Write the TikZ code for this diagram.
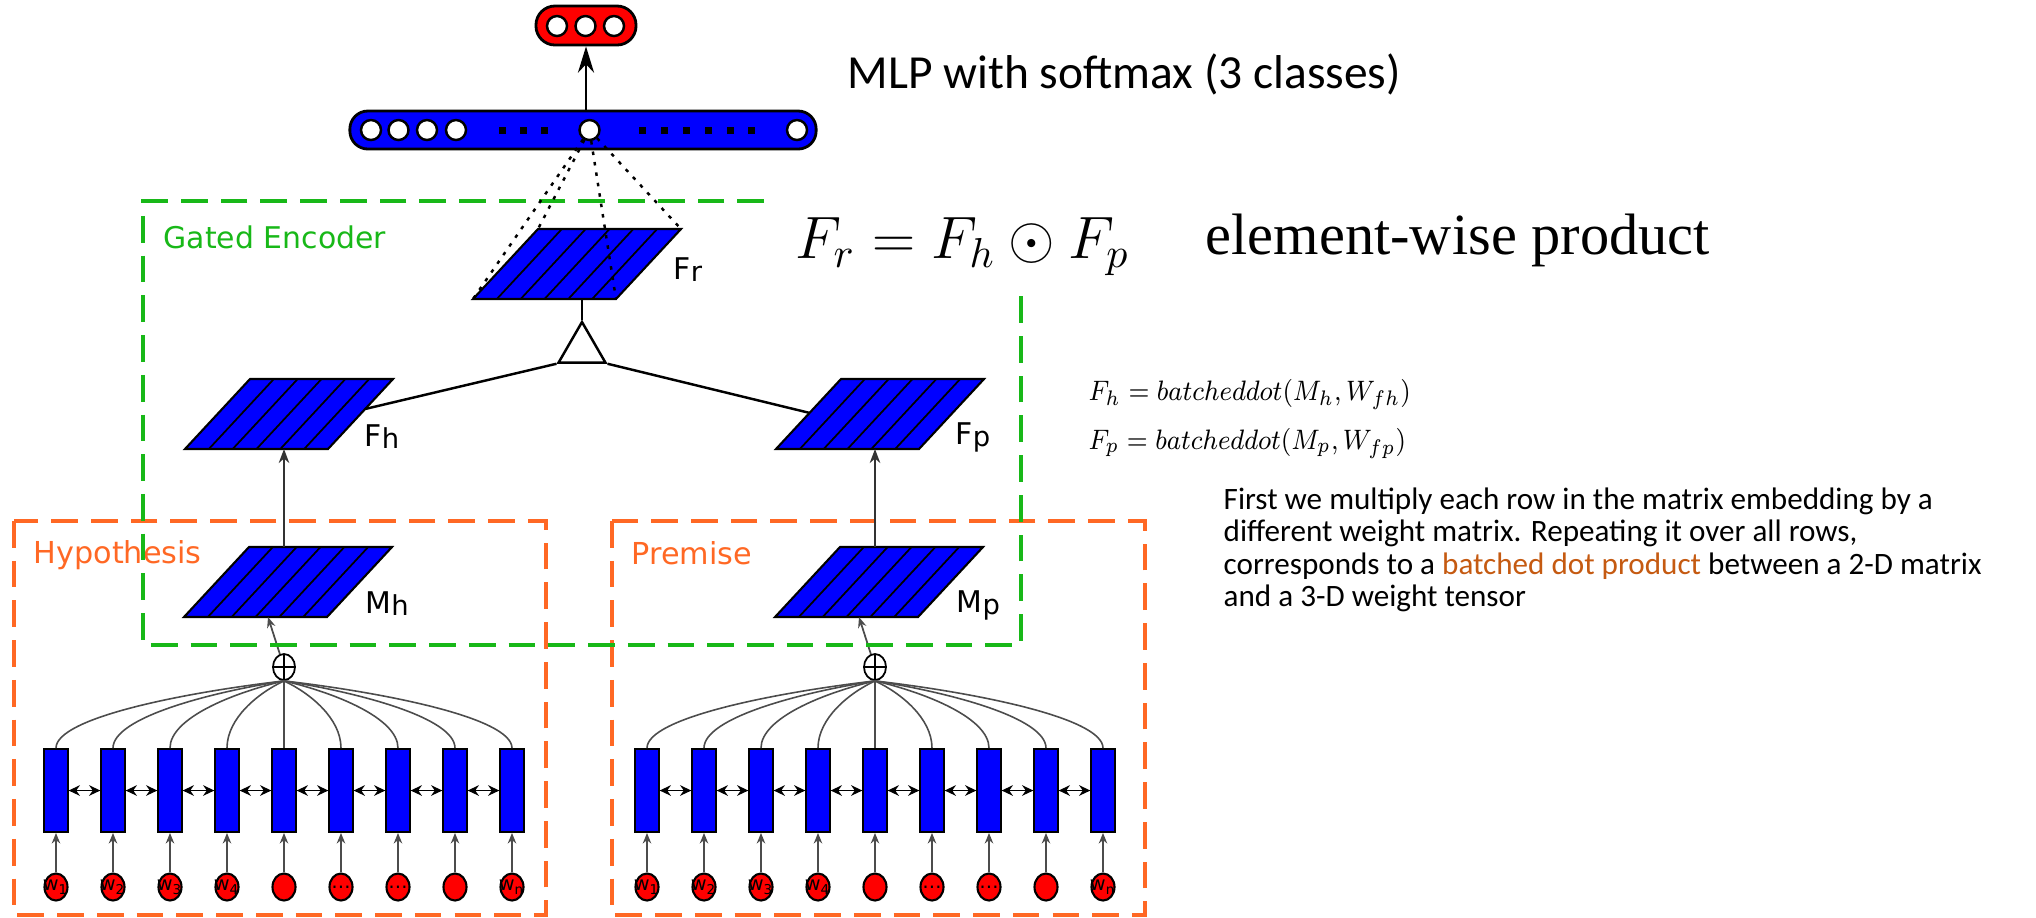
\RequirePackage{fix-cm}
\documentclass[tikz,border=0pt]{standalone}
\usepackage{graphicx}
\usepackage{fontspec}
\usetikzlibrary{arrows.meta,shapes.geometric,calc}

\newfontfamily\labelfont{DejaVu Sans}
\newfontfamily\slidefont{Carlito}
\newfontfamily\slideserif{Liberation Serif}

\definecolor{netblue}{RGB}{0,0,255}
\definecolor{netred}{RGB}{255,0,0}
\definecolor{encgreen}{RGB}{24,184,24}
\definecolor{boxorange}{RGB}{255,104,36}
\definecolor{dotorange}{RGB}{197,90,17}

\newcommand{\sheetname}[2]{#1\raisebox{-0.6pt}{\fontsize{7.8}{8}\selectfont #2}}

\begin{document}
\begin{tikzpicture}[
    x=0.01cm, y=-0.01cm,
    >=Stealth,
    sheetedge/.style={
        draw=black,
        fill=netblue,
        line width=0.6pt
    },
    stripe/.style={
        black,
        line width=0.5pt
    },
    sheet/.pic={
        \draw[sheetedge] (0,0) -- (143,0) -- (208,-70) -- (65,-70) -- cycle;
        \foreach \k in {1,...,5}
            \draw[stripe] ({\k*143/6},0) -- ({65+\k*143/6},-70);
        \coordinate (-bl) at (0,0);
        \coordinate (-br) at (143,0);
        \coordinate (-tr) at (208,-70);
        \coordinate (-tl) at (65,-70);
        \coordinate (-l)  at (34,-36);
        \coordinate (-r)  at (180,-40);
        \coordinate (-in) at (84,0);
    },
    word/.style={
        draw,
        ellipse,
        fill=netred,
        line width=0.6pt,
        minimum width=0.23cm,
        minimum height=0.27cm,
        inner sep=0pt,
        font=\labelfont\fontsize{5.5}{6}\selectfont
    },
    state/.style={
        draw,
        rectangle,
        fill=netblue,
        line width=0.5pt,
        minimum width=0.235cm,
        minimum height=0.83cm,
        inner sep=0pt
    },
    sumnode/.style={
        draw,
        ellipse,
        fill=white,
        line width=0.5pt,
        minimum width=0.22cm,
        minimum height=0.26cm,
        inner sep=0pt,
        path picture={
            \draw[line width=0.4pt]
                (path picture bounding box.north) -- (path picture bounding box.south)
                (path picture bounding box.west) -- (path picture bounding box.east);
        }
    },
    unit/.style={
        draw,
        circle,
        fill=white,
        line width=0.7pt,
        minimum size=0.2cm,
        inner sep=0pt
    },
    dotsq/.style={
        rectangle,
        fill=black,
        minimum size=0.07cm,
        inner sep=0pt
    },
    merge/.style={
        draw,
        regular polygon,
        regular polygon sides=3,
        minimum size=0.54cm,
        inner sep=0pt,
        line width=0.7pt
    },
    inarrow/.style={
        -{Stealth[length=3pt,width=2.4pt]},
        black!70,
        line width=0.5pt
    },
    uparrow/.style={
        -{Stealth[length=4pt,width=3pt]},
        black!80,
        line width=0.5pt
    },
    birnn/.style={
        {Stealth[length=3.2pt,width=3pt]}-{Stealth[length=3.2pt,width=3pt]},
        line width=0.5pt
    },
    fanline/.style={
        black!70,
        line width=0.45pt
    },
    link/.style={
        black,
        line width=0.7pt
    },
    projline/.style={
        black,
        line width=0.7pt,
        dash pattern=on 1pt off 2pt
    },
    seqbox/.style={
        boxorange,
        line width=0.95pt,
        dash pattern=on 7.6pt off 3.7pt
    },
    encbox/.style={
        encgreen,
        line width=0.95pt,
        dash pattern=on 7.6pt off 3.7pt
    },
    seqtitle/.style={
        anchor=west,
        inner sep=0pt,
        font=\labelfont\fontsize{8.6}{10}\selectfont
    },
    sheetlbl/.style={
        anchor=west,
        inner sep=0pt,
        font=\labelfont\fontsize{8.5}{10}\selectfont
    }
]

\useasboundingbox (0,0) rectangle (2036,917);

% ------------------------------------------------------------
% Hypothesis encoder
% ------------------------------------------------------------
\begin{scope}[shift={(0,0)}]
    \draw[seqbox] (14,521) rectangle (546,915);
    \node[seqtitle, text=boxorange] (hy-title) at (33,555) {Hypothesis};

    \foreach \w [count=\i] in {w\textsubscript{1},w\textsubscript{2},w\textsubscript{3},w\textsubscript{4},{},\textellipsis,\textellipsis,{},w\textsubscript{n}} {
        \node[word]  (hy-w\i) at ({56+57*(\i-1)},887) {\makebox[0pt]{\w}};
        \node[state] (hy-h\i) at ({56+57*(\i-1)},790.5) {};
        \draw[inarrow] (hy-w\i) -- (hy-h\i);
    }

    \foreach \i [evaluate=\i as \j using int(\i+1)] in {1,...,8}
        \draw[birnn] (hy-h\i.east) -- (hy-h\j.west);

    \node[sumnode] (hy-sum) at (284,667) {};

    \foreach \i in {1,...,9}
        \draw[fanline] (hy-h\i.north)
            .. controls ($(hy-h\i.north)+(0,-30)$) and ($(hy-sum.south)+({0.45*57*(\i-5)},12)$)
            .. (hy-sum.south);

    \pic (hy-M) at (184,617) {sheet};
    \pic (hy-F) at (185,449) {sheet};
    \node[sheetlbl] (hy-Mlbl) at (365,604) {\sheetname{M}{h}};
    \node[sheetlbl] (hy-Flbl) at (364,437) {\sheetname{F}{h}};

    \draw[inarrow] (hy-sum) -- (hy-M-in);
    \draw[uparrow] (hy-sum.north |- hy-M-tl) -- (hy-sum.north |- hy-F-bl);
\end{scope}

% ------------------------------------------------------------
% Premise encoder
% ------------------------------------------------------------
\begin{scope}[shift={(591,0)}]
    \draw[seqbox] (21,521) rectangle (554,915);
    \node[seqtitle, text=boxorange] (pr-title) at (40,553) {Premise};

    \foreach \w [count=\i] in {w\textsubscript{1},w\textsubscript{2},w\textsubscript{3},w\textsubscript{4},{},\textellipsis,\textellipsis,{},w\textsubscript{n}} {
        \node[word]  (pr-w\i) at ({56+57*(\i-1)},887) {\makebox[0pt]{\w}};
        \node[state] (pr-h\i) at ({56+57*(\i-1)},790.5) {};
        \draw[inarrow] (pr-w\i) -- (pr-h\i);
    }

    \foreach \i [evaluate=\i as \j using int(\i+1)] in {1,...,8}
        \draw[birnn] (pr-h\i.east) -- (pr-h\j.west);

    \node[sumnode] (pr-sum) at (284,667) {};

    \foreach \i in {1,...,9}
        \draw[fanline] (pr-h\i.north)
            .. controls ($(pr-h\i.north)+(0,-30)$) and ($(pr-sum.south)+({0.45*57*(\i-5)},12)$)
            .. (pr-sum.south);

    \pic (pr-M) at (184,617) {sheet};
    \pic (pr-F) at (185,449) {sheet};
    \node[sheetlbl] (pr-Mlbl) at (365,605) {\sheetname{M}{p}};
    \node[sheetlbl] (pr-Flbl) at (364,437) {\sheetname{F}{p}};

    \draw[inarrow] (pr-sum) -- (pr-M-in);
    \draw[uparrow] (pr-sum.north |- pr-M-tl) -- (pr-sum.north |- pr-F-bl);
\end{scope}

% ------------------------------------------------------------
% Gated encoder
% ------------------------------------------------------------
\draw[encbox] (764,201) -- (143,201) -- (143,645) -- (1021,645) -- (1021,293);
\node[seqtitle, text=encgreen, font=\labelfont\fontsize{8.5}{10}\selectfont]
    (enc-title) at (163,237) {Gated Encoder};

\pic (Fr) at (473,299) {sheet};
\node[sheetlbl] (Fr-lbl) at (673,270) {\sheetname{F}{r}};

\node[merge] (gate) at (582,349) {};
\draw[link] (Fr-bl -| gate.corner 1) -- (gate.corner 1);
\draw[link] (hy-F-r) -- (gate.corner 2);
\draw[link] (gate.corner 3) -- (pr-F-l);

% ------------------------------------------------------------
% MLP with softmax
% ------------------------------------------------------------
\node[draw, fill=netblue, line width=0.8pt, rounded corners=0.18cm,
      minimum width=4.66cm, minimum height=0.38cm, inner sep=0pt] (mlpbar) at (583,130) {};
\foreach \x [count=\i] in {371,398.5,427,456,589.5,797}
    \node[unit] (mlp\i) at (\x,130) {};
\foreach \x [count=\i] in {502,523,544,642,664,686,708,730,751}
    \node[dotsq] (mlpdot\i) at (\x,130) {};

\node[draw, fill=netred, line width=0.8pt, rounded corners=0.19cm,
      minimum width=1cm, minimum height=0.39cm, inner sep=0pt] (outlayer) at (586,25.5) {};
\foreach \x [count=\i] in {557,585.5,614}
    \node[unit] (out\i) at (\x,26) {};

\draw[-{Stealth[length=7.5pt,width=4.6pt]}, line width=0.6pt]
    (mlpbar.north -| outlayer) -- (outlayer.south);

\foreach \c in {bl,tl,br,tr}
    \draw[projline] (mlp5) -- (Fr-\c);

% ------------------------------------------------------------
% Slide text
% ------------------------------------------------------------
\node[anchor=west, inner sep=0pt, font=\slidefont\fontsize{13.5}{16}\selectfont]
    (mlp-title) at (847,74) {MLP with softmax (3 classes)};

\node[anchor=west, inner sep=0pt, font=\fontsize{17}{20}\selectfont]
    (gate-eq) at (795,247) {$F_r = F_h \odot F_p$};

\node[anchor=west, inner sep=0pt, font=\slideserif\fontsize{16.6}{20}\selectfont]
    (gate-note) at (1205,240) {element-wise product};

\node[anchor=west, inner sep=0pt, align=left, font=\fontsize{8}{13.8}\selectfont]
    (bdot-eq) at (1088,419)
    {\scalebox{0.9}[1]{$F_h = batcheddot(M_h, W_{fh})$}\\
     \scalebox{0.9}[1]{$F_p = batcheddot(M_p, W_{fp})$}};

\node[anchor=west, inner sep=0pt, align=left, font=\slidefont\fontsize{8.85}{9.2}\selectfont]
    (bdot-note) at (1223,550)
    {First we multiply each row in the matrix embedding by a\\
     different weight matrix. Repeating it over all rows,\\
     corresponds to a \textcolor{dotorange}{batched dot product} between a 2-D matrix\\
     and a 3-D weight tensor};

\end{tikzpicture}
\end{document}
